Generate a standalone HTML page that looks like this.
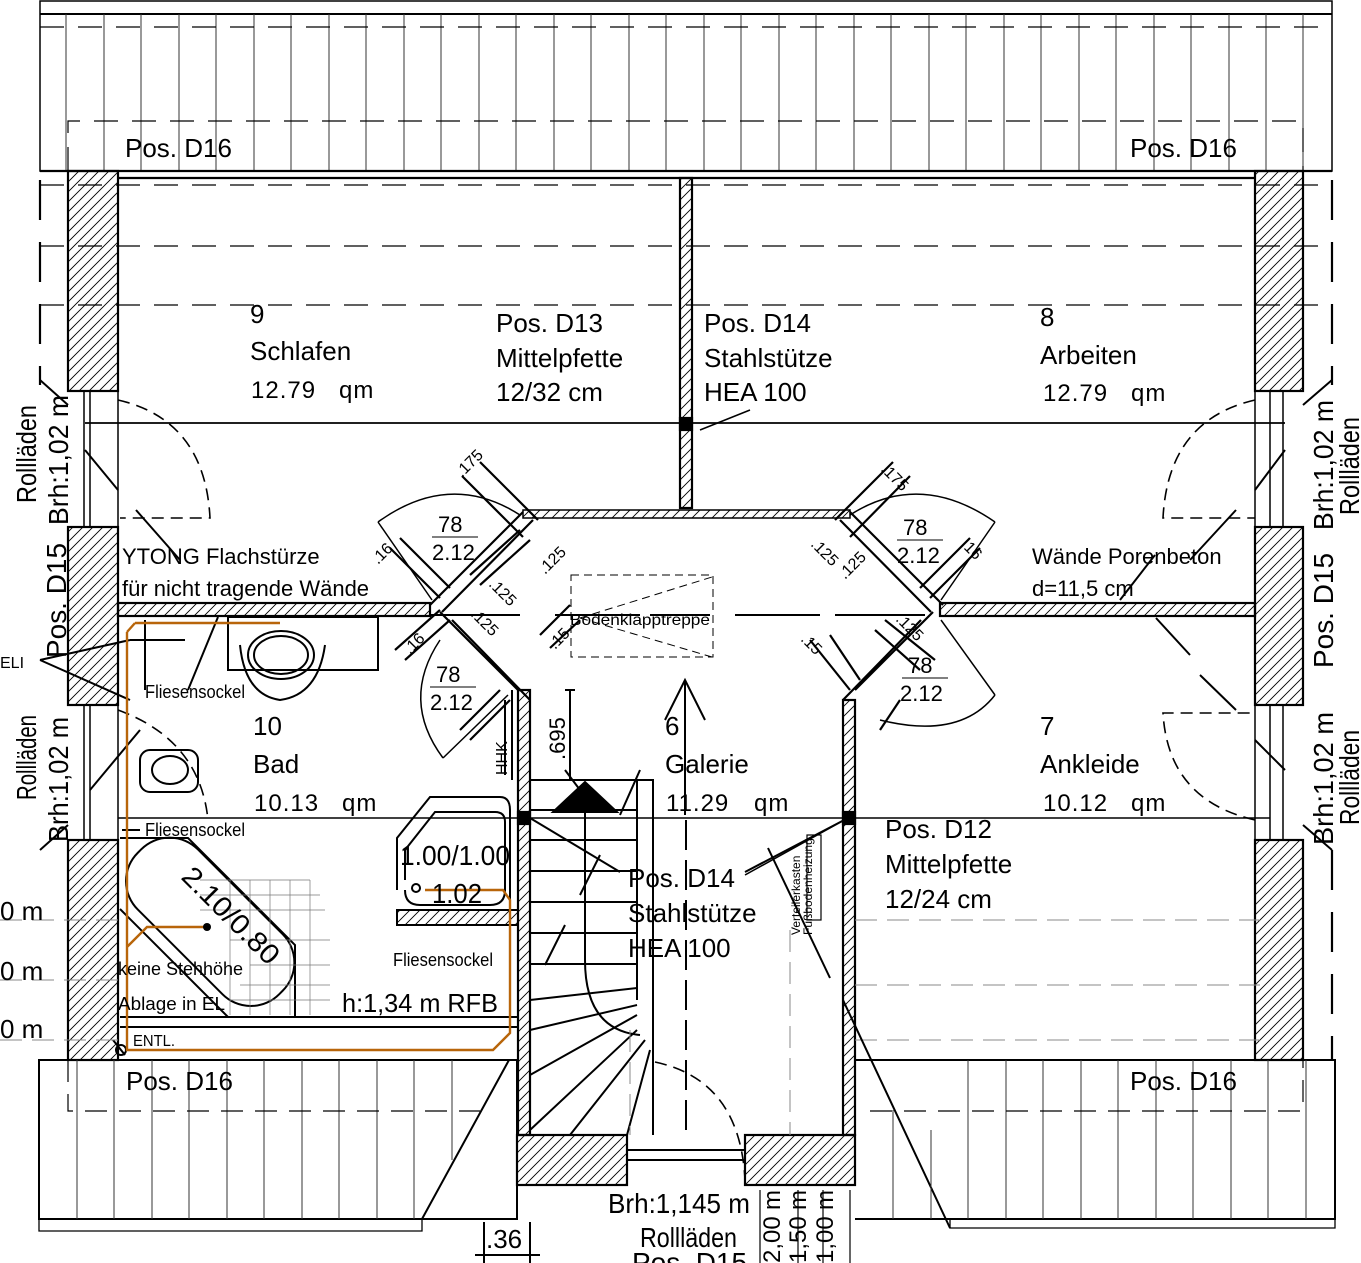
<!DOCTYPE html>
<html><head><meta charset="utf-8">
<style>
html,body{margin:0;padding:0;background:#fff;}
svg{display:block;font-family:"Liberation Sans",sans-serif;}
.t{font-size:26px;fill:#000;}
.s{font-size:22px;fill:#000;}
.q{font-size:24px;fill:#000;letter-spacing:1px;}
.c{font-size:20px;fill:#000;font-family:"Liberation Sans",sans-serif;}
</style></head><body>
<svg width="1361" height="1263" viewBox="0 0 1361 1263" xmlns="http://www.w3.org/2000/svg">
<defs>
<pattern id="h" patternUnits="userSpaceOnUse" width="10" height="10">
<path d="M0,10 L10,0 M-1,1 L1,-1 M9,11 L11,9" stroke="#000" stroke-width="0.9"/>
</pattern>
</defs>
<rect width="1361" height="1263" fill="#fff"/>

<!-- TOP ROOF -->
<g stroke="#000" fill="none">
<rect x="40" y="1" width="1292" height="170" stroke-width="1.5"/>
<line x1="40" y1="14" x2="1332" y2="14" stroke-width="2"/>
<g stroke-width="1" stroke="#333">
<path d="M66,14V171M104,14V171M141,14V171M179,14V171M216,14V171M254,14V171M291,14V171M329,14V171M366,14V171M404,14V171M441,14V171M479,14V171M516,14V171M554,14V171M591,14V171M629,14V171M666,14V171M704,14V171M741,14V171M779,14V171M816,14V171M854,14V171M891,14V171M929,14V171M966,14V171M1004,14V171M1041,14V171M1079,14V171M1116,14V171M1154,14V171M1191,14V171M1229,14V171M1266,14V171M1303,14V171"/>
</g>
<g stroke-dasharray="24,14" stroke-width="1.2">
<line x1="40" y1="27" x2="1332" y2="27"/>
<path d="M68,171V121H1303V171"/>
<line x1="40" y1="185" x2="1332" y2="185"/>
<line x1="40" y1="246" x2="1332" y2="246"/>
<line x1="40" y1="305" x2="1332" y2="305"/>
</g>
<g stroke-dasharray="40,22" stroke-width="2.2">
<line x1="40" y1="180" x2="40" y2="385"/>
<line x1="1332" y1="180" x2="1332" y2="385"/>
<line x1="1332" y1="850" x2="1332" y2="1060"/>
</g>
</g>

<!-- OUTER WALLS -->
<g stroke="#000" stroke-width="2.2">
<line x1="40" y1="171" x2="1332" y2="171"/>
<line x1="118" y1="178" x2="1255" y2="178"/>
<rect x="68" y="171" width="50" height="220" fill="url(#h)"/>
<rect x="68" y="527" width="50" height="178" fill="url(#h)"/>
<rect x="68" y="840" width="50" height="220" fill="url(#h)"/>
<rect x="1255" y="171" width="48" height="220" fill="url(#h)"/>
<rect x="1255" y="527" width="48" height="178" fill="url(#h)"/>
<rect x="1255" y="840" width="48" height="220" fill="url(#h)"/>
</g>
<g stroke="#000" stroke-width="1.5" fill="none">
<path d="M84,391V527M90,391V527M118,391V527"/>
<path d="M84,705V840M90,705V840M118,705V840"/>
<path d="M1270,391V527M1283,391V527M1255,391V527"/>
<path d="M1270,705V840M1283,705V840M1255,705V840"/>
<path d="M40,380L68,405M40,850L68,825M1332,380L1303,405M1332,850L1303,825" stroke-width="2"/>
</g>

<!-- interior walls -->
<g stroke="#000" stroke-width="2.2">
<rect x="680" y="178" width="12" height="330" fill="url(#h)"/>
<line x1="85" y1="423" x2="1285" y2="423" stroke-width="1.8"/>
<rect x="680" y="418" width="12" height="12" fill="#000"/>
<rect x="523" y="510" width="327" height="8" fill="url(#h)" stroke-width="1.5"/>
<rect x="118" y="603" width="312" height="13" fill="url(#h)"/>
<rect x="940" y="603" width="315" height="13" fill="url(#h)"/>
<path d="M523,512L430,605M533,520L442,612" fill="none"/>
<path d="M850,512L943,605M840,520L931,612" fill="none"/>
<path d="M518,690L440,612M530,700L452,620" fill="none"/>
<path d="M855,690L933,612M843,700L921,620" fill="none"/>
<rect x="518" y="690" width="12" height="445" fill="url(#h)"/>
<rect x="843" y="700" width="12" height="435" fill="url(#h)"/>
<rect x="517" y="1135" width="110" height="50" fill="url(#h)"/>
<rect x="745" y="1135" width="110" height="50" fill="url(#h)"/>
<rect x="518" y="812" width="12" height="12" fill="#000"/>
<rect x="843" y="812" width="12" height="12" fill="#000"/>
<line x1="118" y1="818" x2="1270" y2="818" stroke-width="1.6"/>
</g>

<g stroke="#000" fill="none" stroke-width="1" stroke-dasharray="8,5">
<rect x="571" y="575" width="142" height="82"/>
<path d="M580,618L712,577M580,618L712,657"/>
</g>
<path d="M430,615H540M555,615H640M650,615H710M735,615H820M835,615H940" stroke="#000" stroke-width="2" stroke-dasharray="90,20" fill="none"/>
<text x="570" y="625" class="c" style="font-size:16px" textLength="140" lengthAdjust="spacingAndGlyphs">Bodenklapptreppe</text>

<g stroke="#000" fill="none" stroke-width="1.5">
<path d="M378,522 Q450,470 520,515"/>
<path d="M378,522L432,600"/>
<path d="M443,758 Q400,700 440,640"/>
<path d="M443,758L508,695"/>
<path d="M995,522 Q920,470 850,515"/>
<path d="M995,522L941,600"/>
<path d="M995,695 Q960,740 880,720"/>
<path d="M995,695L941,620"/>
</g>
<g stroke="#000" fill="none" stroke-width="1.6" stroke-dasharray="12,7">
<path d="M118,400 Q205,420 210,518 H120"/>
<path d="M1255,400 Q1168,420 1163,518 H1255"/>
<path d="M1255,820 Q1168,800 1163,713 H1255"/>
<path d="M118,710 Q200,740 208,820"/>
<path d="M655,1062 Q740,1080 745,1180"/>
</g>
<g stroke="#000" stroke-width="2" fill="none">
<path d="M85,450L118,490M136,510L180,560"/>
<path d="M1285,450L1255,490M1236,510L1190,560"/>
<path d="M1156,618L1190,655M1200,675L1236,710"/>
<path d="M1285,770L1255,740"/>
<path d="M90,790L140,730"/>
<path d="M1155,555 L1120,600"/>
</g>

<g stroke="#000" stroke-width="2.2" fill="none">
<path d="M462,476L523,537M480,462L538,520"/>
<path d="M390,548L440,598M400,538L450,588"/>
<path d="M470,575L520,530M480,585L530,540"/>
<path d="M395,650L440,610M405,660L450,620"/>
<path d="M460,730L500,690M470,740L510,700"/>
<path d="M540,635L570,605M550,648L580,620"/>
<path d="M910,476L850,537M893,462L835,520"/>
<path d="M980,548L930,598M970,538L920,588"/>
<path d="M875,630L920,670M885,620L935,660"/>
<path d="M810,640L850,690M830,635L860,680"/>
<path d="M880,730L900,700"/>
</g>
<g fill="#000" font-size="16" font-family="Liberation Sans,sans-serif">
<text transform="translate(462,478) rotate(-45)">.175</text>
<text transform="translate(545,575) rotate(-45)">.125</text>
<text transform="translate(378,565) rotate(-45)">.16</text>
<text transform="translate(488,585) rotate(45)">.125</text>
<text transform="translate(410,655) rotate(-45)">.16</text>
<text transform="translate(470,615) rotate(45)">.125</text>
<text transform="translate(555,650) rotate(-45)">.15</text>
<text transform="translate(880,470) rotate(45)">.175</text>
<text transform="translate(810,545) rotate(45)">.125</text>
<text transform="translate(960,545) rotate(45)">.16</text>
<text transform="translate(845,580) rotate(-45)">.125</text>
<text transform="translate(800,640) rotate(45)">.15</text>
<text transform="translate(895,620) rotate(45)">.125</text>
</g>
<g class="s">
<text x="438" y="532" class="s">78</text><line x1="432" y1="537" x2="478" y2="537" stroke="#000"/><text x="432" y="560" class="s">2.12</text>
<text x="903" y="535" class="s">78</text><line x1="897" y1="540" x2="943" y2="540" stroke="#000"/><text x="897" y="563" class="s">2.12</text>
<text x="436" y="682" class="s">78</text><line x1="430" y1="687" x2="476" y2="687" stroke="#000"/><text x="430" y="710" class="s">2.12</text>
<text x="908" y="673" class="s">78</text><line x1="902" y1="678" x2="948" y2="678" stroke="#000"/><text x="900" y="701" class="s">2.12</text>
</g>

<!-- BAD -->
<g stroke="#000" fill="none" stroke-width="2">
<rect x="228" y="617" width="150" height="53"/>
<path d="M240,645 Q245,695 280,700 Q318,695 325,645"/>
<ellipse cx="281" cy="655" rx="33" ry="24"/>
<ellipse cx="281" cy="655" rx="27" ry="19"/>
<rect x="140" y="750" width="58" height="42" rx="10"/>
<ellipse cx="170" cy="770" rx="18" ry="14"/>
<path d="M120,838H188L295,945V1017H228L120,909"/>
<rect x="120" y="870" width="200" height="85" rx="40" transform="rotate(45 207 925) translate(-13 8)"/>
<path d="M120,1017H518M120,1027H518"/>
<path d="M397,890V838L430,797H500Q510,797 510,810V910M397,910H518"/>
<rect x="397" y="910" width="121" height="15" fill="url(#h)"/>
<path d="M405,880V850L435,812H495Q505,812 505,822V890Q505,905 490,905H420Q405,905 405,890"/>
<circle cx="416" cy="888" r="4"/>
<path d="M145,620V690M188,690L218,617M130,640H185M40,660L130,640M40,660L130,700"/>
<path d="M122,830H140"/>
<path d="M113,1040L125,1055"/>
<circle cx="121" cy="1050" r="5"/>
</g>
<g stroke="#777" stroke-width="0.7" fill="none">
<path d="M200,880H310M200,895H320M200,910H325M230,940H330M250,965H330M240,985H330M230,1000H330"/>
<path d="M230,880V1015M250,880V1015M270,880V1015M290,880V1015M310,880V1015"/>
</g>
<path d="M135,623H280M127,632V1050H493L510,1033V900L503,890H425M127,947L147,927H207" stroke="#b8650a" stroke-width="2.4" fill="none"/>
<path d="M135,623L127,632" stroke="#b8650a" stroke-width="2.4"/>
<circle cx="207" cy="927" r="4" fill="#000"/>

<!-- STAIRS -->
<g stroke="#000" fill="none" stroke-width="2">
<path d="M530,780H653V1135M637,780V1000M530,810H637M530,840H637M530,871H637M530,902H637M530,933H637M530,964H637"/>
<path d="M530,1000L637,988M530,1030L637,1005M530,1075L637,1015M530,1130L637,1030M570,1135L645,1040M627,1135L650,1050"/>
<path d="M585,785V960 Q585,1030 640,1035"/>
<polygon points="553,812 585,782 617,812" fill="#000"/>
<path d="M565,690H575M570,690V780M565,770L580,790"/>
<path d="M627,1150H745M627,1160H745"/>
<path d="M530,818L620,872M745,872L848,818"/>
<path d="M685,680V815M665,720L685,680L705,720"/>
<path d="M640,770L620,815M600,855L580,895M565,925L545,965"/>
<path d="M768,848L830,978"/>
<path d="M512,690V780M505,700V775"/>
<rect x="807" y="835" width="14" height="85" stroke-width="1.2"/>
</g>
<g stroke="#000" stroke-dasharray="30,10" stroke-width="2" fill="none">
<path d="M686,820V1130"/>
</g>
<g stroke="#888" stroke-dasharray="22,10" stroke-width="1" fill="none">
<path d="M790,930V1135M630,1030V1135"/>
<path d="M855,920H1260M855,985H1260M855,1040H1260"/>
<path d="M0,920H120M0,980H120M0,1040H120"/>
</g>

<!-- BOTTOM ROOF -->
<g stroke="#000" fill="none">
<path d="M39,1060H517V1219H39Z" stroke-width="2"/>
<path d="M39,1219V1231H422V1219" stroke-width="1.3"/>
<path d="M855,1060H1335V1219H855" stroke-width="2"/>
<path d="M950,1219V1228H1335V1219" stroke-width="1.3"/>
<path d="M509,1060L422,1219M843,1000L950,1228" stroke-width="2"/>
<g stroke="#333" stroke-width="1">
<path d="M77,1060V1219M114,1060V1219M152,1060V1219M189,1060V1219M227,1060V1219M264,1060V1219M302,1060V1219M339,1060V1219M377,1060V1219M414,1060V1219M452,1060V1160"/>
<path d="M893,1110V1219M931,1130V1219M968,1060V1219M1006,1060V1219M1043,1060V1219M1081,1060V1219M1118,1060V1219M1156,1060V1219M1193,1060V1219M1231,1060V1219M1268,1060V1219M1306,1060V1219"/>
</g>
<path d="M68,1060V1111H480M870,1111H1303V1060" stroke-dasharray="22,12" stroke-width="1.2"/>
<path d="M484,1222V1263M530,1222V1263M475,1255H540" stroke-width="2"/>
<path d="M760,1190V1263M798,1190V1263M823,1190V1263M850,1190V1263" stroke-width="1.2"/>
</g>

<!-- TEXT -->
<g class="t">
<text x="125" y="157">Pos. D16</text>
<text x="1130" y="157">Pos. D16</text>
<text x="126" y="1090">Pos. D16</text>
<text x="1130" y="1090">Pos. D16</text>
<text x="250" y="323">9</text>
<text x="250" y="360">Schlafen</text>
<text x="496" y="332">Pos. D13</text>
<text x="496" y="367">Mittelpfette</text>
<text x="496" y="401">12/32 cm</text>
<text x="704" y="332">Pos. D14</text>
<text x="704" y="367">Stahlstütze</text>
<text x="704" y="401">HEA 100</text>
<text x="1040" y="326">8</text>
<text x="1040" y="364">Arbeiten</text>
<text x="253" y="735">10</text>
<text x="253" y="773">Bad</text>
<text x="665" y="735">6</text>
<text x="665" y="773">Galerie</text>
<text x="1040" y="735">7</text>
<text x="1040" y="773">Ankleide</text>
<text x="885" y="838">Pos. D12</text>
<text x="885" y="873">Mittelpfette</text>
<text x="885" y="908">12/24 cm</text>
<text x="628" y="887">Pos. D14</text>
<text x="628" y="922">Stahlstütze</text>
<text x="628" y="957">HEA 100</text>
</g>
<g class="q">
<text x="251" y="398">12.79</text><text x="339" y="398">qm</text>
<text x="1043" y="401">12.79</text><text x="1131" y="401">qm</text>
<text x="254" y="811">10.13</text><text x="342" y="811">qm</text>
<text x="666" y="811">11.29</text><text x="754" y="811">qm</text>
<text x="1043" y="811">10.12</text><text x="1131" y="811">qm</text>
</g>
<line x1="745" y1="875" x2="848" y2="818" stroke="#000" stroke-width="1.5"/>
<line x1="700" y1="430" x2="750" y2="410" stroke="#000" stroke-width="1.5"/>
<g class="s">
<text x="122" y="564">YTONG Flachstürze</text>
<text x="122" y="596">für nicht tragende Wände</text>
<text x="1032" y="564">Wände Porenbeton</text>
<text x="1032" y="596">d=11,5 cm</text>
</g>
<g class="c">
<text x="145" y="698" style="font-size:18px" textLength="100" lengthAdjust="spacingAndGlyphs">Fliesensockel</text>
<text x="145" y="836" style="font-size:18px" textLength="100" lengthAdjust="spacingAndGlyphs">Fliesensockel</text>
<text x="393" y="966" style="font-size:18px" textLength="100" lengthAdjust="spacingAndGlyphs">Fliesensockel</text>
<text x="118" y="975" style="font-size:18px" textLength="125" lengthAdjust="spacingAndGlyphs">keine Stehhöhe</text>
<text x="118" y="1010" style="font-size:18px" textLength="107" lengthAdjust="spacingAndGlyphs">Ablage in EL</text>
<text x="342" y="1012" style="font-size:26px" textLength="156" lengthAdjust="spacingAndGlyphs">h:1,34 m RFB</text>
<text x="133" y="1046" style="font-size:16px" textLength="42" lengthAdjust="spacingAndGlyphs">ENTL.</text>
<text x="400" y="865" style="font-size:28px" textLength="110" lengthAdjust="spacingAndGlyphs">1.00/1.00</text>
<text x="432" y="903" style="font-size:28px" textLength="50" lengthAdjust="spacingAndGlyphs">1.02</text>
<text transform="translate(180,878) rotate(45)" style="font-size:28px" textLength="125" lengthAdjust="spacingAndGlyphs">2.10/0.80</text>
<text x="608" y="1213" style="font-size:28px" textLength="142" lengthAdjust="spacingAndGlyphs">Brh:1,145 m</text>
<text x="640" y="1247" style="font-size:28px" textLength="97" lengthAdjust="spacingAndGlyphs">Rollläden</text>
<text x="632" y="1272" style="font-size:28px" textLength="115" lengthAdjust="spacingAndGlyphs">Pos. D15</text>
<text x="486" y="1248" style="font-size:26px">.36</text>
<text x="0" y="920" style="font-size:26px">0 m</text>
<text x="0" y="980" style="font-size:26px">0 m</text>
<text x="0" y="1038" style="font-size:26px">0 m</text>
<text x="0" y="668" style="font-size:16px">ELI</text>
<text transform="translate(507,775) rotate(-90)" style="font-size:16px">HHK</text>
<text transform="translate(565,760) rotate(-90)" style="font-size:22px">.695</text>
<text transform="translate(800,935) rotate(-90)" style="font-size:12px">Verteilerkasten</text>
<text transform="translate(812,935) rotate(-90)" style="font-size:12px">Fußbodenheizung</text>
<text transform="translate(780,1210) rotate(-90)" style="font-size:24px">m</text>
<text transform="translate(806,1210) rotate(-90)" style="font-size:24px">m</text>
<text transform="translate(833,1210) rotate(-90)" style="font-size:24px">m</text>
<text transform="translate(780,1263) rotate(-90)" style="font-size:24px">2,00</text>
<text transform="translate(806,1263) rotate(-90)" style="font-size:24px">1,50</text>
<text transform="translate(833,1263) rotate(-90)" style="font-size:24px">1,00</text>
<text transform="translate(36,503) rotate(-90)" style="font-size:28px" textLength="98" lengthAdjust="spacingAndGlyphs">Rollläden</text>
<text transform="translate(68,525) rotate(-90)" style="font-size:28px" textLength="130" lengthAdjust="spacingAndGlyphs">Brh:1,02 m</text>
<text transform="translate(66,658) rotate(-90)" style="font-size:28px" textLength="115" lengthAdjust="spacingAndGlyphs">Pos. D15</text>
<text transform="translate(36,800) rotate(-90)" style="font-size:28px" textLength="85" lengthAdjust="spacingAndGlyphs">Rollläden</text>
<text transform="translate(68,842) rotate(-90)" style="font-size:28px" textLength="125" lengthAdjust="spacingAndGlyphs">Brh:1,02 m</text>
<text transform="translate(1359,515) rotate(-90)" style="font-size:28px" textLength="98" lengthAdjust="spacingAndGlyphs">Rollläden</text>
<text transform="translate(1333,530) rotate(-90)" style="font-size:28px" textLength="130" lengthAdjust="spacingAndGlyphs">Brh:1,02 m</text>
<text transform="translate(1333,668) rotate(-90)" style="font-size:28px" textLength="115" lengthAdjust="spacingAndGlyphs">Pos. D15</text>
<text transform="translate(1359,825) rotate(-90)" style="font-size:28px" textLength="95" lengthAdjust="spacingAndGlyphs">Rollläden</text>
<text transform="translate(1333,845) rotate(-90)" style="font-size:28px" textLength="133" lengthAdjust="spacingAndGlyphs">Brh:1,02 m</text>
</g>
</svg>
</body></html>
